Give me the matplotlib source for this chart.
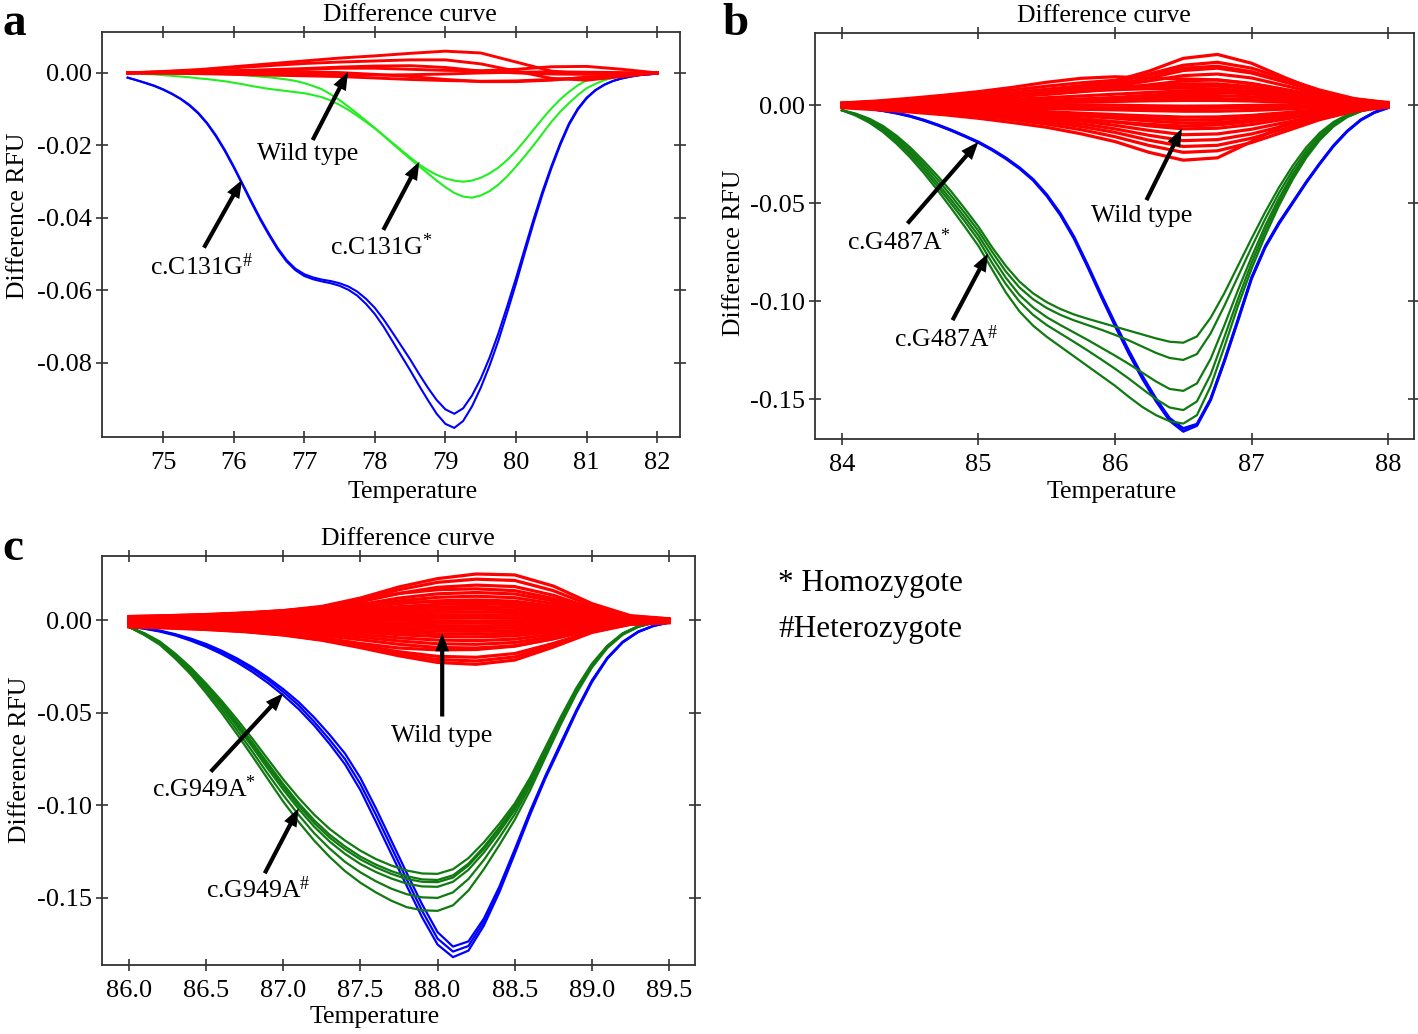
import matplotlib
matplotlib.use('Agg')
import matplotlib.pyplot as plt

plt.rcParams['font.family'] = ['Liberation Serif', 'DejaVu Serif']
plt.rcParams['axes.unicode_minus'] = False
plt.rcParams['mathtext.fontset'] = 'custom'
plt.rcParams['mathtext.rm'] = 'Liberation Serif'
plt.rcParams['mathtext.it'] = 'Liberation Serif:italic'
plt.rcParams['mathtext.bf'] = 'Liberation Serif:bold'

# ---------------- Panel a data ----------------
temp_a = [74.5, 74.625, 74.75, 74.875, 75.0, 75.125, 75.25, 75.375,
          75.5, 75.625, 75.75, 75.875, 76.0, 76.125, 76.25, 76.375,
          76.5, 76.625, 76.75, 76.875, 77.0, 77.125, 77.25, 77.375,
          77.5, 77.625, 77.75, 77.875, 78.0, 78.125, 78.25, 78.375,
          78.5, 78.625, 78.75, 78.875, 79.0, 79.125, 79.25, 79.375,
          79.5, 79.625, 79.75, 79.875, 80.0, 80.125, 80.25, 80.375,
          80.5, 80.625, 80.75, 80.875, 81.0, 81.125, 81.25, 81.375,
          81.5, 81.625, 81.75, 81.875, 82.0]
a_het_1 = [-0.0013, -0.0020, -0.0027, -0.0035, -0.0045, -0.0057, -0.0071, -0.0088,
           -0.0110, -0.0138, -0.0172, -0.0212, -0.0257, -0.0305, -0.0353, -0.0400,
           -0.0443, -0.0483, -0.0516, -0.0540, -0.0555, -0.0564, -0.0570, -0.0574,
           -0.0580, -0.0589, -0.0603, -0.0623, -0.0648, -0.0680, -0.0716, -0.0753,
           -0.0790, -0.0830, -0.0868, -0.0902, -0.0928, -0.0940, -0.0925, -0.0890,
           -0.0843, -0.0785, -0.0718, -0.0643, -0.0565, -0.0483, -0.0402, -0.0326,
           -0.0257, -0.0194, -0.0139, -0.0098, -0.0068, -0.0047, -0.0032, -0.0022,
           -0.0015, -0.0010, -0.0006, -0.0004, -0.0002]
a_het_2 = [-0.0013, -0.0020, -0.0028, -0.0036, -0.0046, -0.0058, -0.0072, -0.0090,
           -0.0112, -0.0140, -0.0175, -0.0215, -0.0260, -0.0308, -0.0357, -0.0404,
           -0.0447, -0.0487, -0.0520, -0.0544, -0.0560, -0.0569, -0.0575, -0.0580,
           -0.0587, -0.0598, -0.0614, -0.0637, -0.0665, -0.0700, -0.0740, -0.0780,
           -0.0820, -0.0862, -0.0902, -0.0940, -0.0968, -0.0979, -0.0960, -0.0920,
           -0.0868, -0.0807, -0.0738, -0.0660, -0.0580, -0.0495, -0.0412, -0.0334,
           -0.0263, -0.0199, -0.0143, -0.0101, -0.0070, -0.0048, -0.0033, -0.0022,
           -0.0015, -0.0010, -0.0006, -0.0004, -0.0002]
a_hom_1 = [0.0000, -0.0001, -0.0003, -0.0004, -0.0006, -0.0008, -0.0010, -0.0012,
           -0.0015, -0.0017, -0.0020, -0.0023, -0.0027, -0.0031, -0.0036, -0.0040,
           -0.0044, -0.0047, -0.0050, -0.0053, -0.0056, -0.0061, -0.0067, -0.0076,
           -0.0088, -0.0102, -0.0118, -0.0135, -0.0153, -0.0173, -0.0193, -0.0213,
           -0.0233, -0.0252, -0.0268, -0.0281, -0.0291, -0.0297, -0.0300, -0.0297,
           -0.0289, -0.0277, -0.0261, -0.0240, -0.0215, -0.0186, -0.0156, -0.0126,
           -0.0098, -0.0073, -0.0052, -0.0034, -0.0020, -0.0012, -0.0007, -0.0004,
           -0.0002, -0.0001, 0.0000, 0.0000, 0.0000]
a_hom_2 = [0.0000, 0.0000, 0.0000, 0.0000, 0.0000, 0.0000, 0.0000, -0.0001,
           -0.0001, -0.0002, -0.0002, -0.0003, -0.0004, -0.0006, -0.0008, -0.0010,
           -0.0012, -0.0015, -0.0018, -0.0022, -0.0028, -0.0036, -0.0045, -0.0059,
           -0.0075, -0.0093, -0.0112, -0.0132, -0.0152, -0.0173, -0.0195, -0.0216,
           -0.0237, -0.0257, -0.0277, -0.0297, -0.0315, -0.0331, -0.0341, -0.0344,
           -0.0338, -0.0326, -0.0308, -0.0285, -0.0258, -0.0229, -0.0199, -0.0167,
           -0.0135, -0.0107, -0.0083, -0.0061, -0.0042, -0.0030, -0.0020, -0.0013,
           -0.0008, -0.0004, -0.0002, -0.0001, 0.0000]
temp_a_wt = [74.5, 75.0, 75.5, 76.0, 76.5, 77.0, 77.5, 78.0, 78.5, 79.0, 79.5, 80.0, 80.5, 81.0, 81.5, 82.0]
a_wild = [
    [0, 0.0004, 0.0009, 0.0017, 0.0025, 0.0033, 0.0041, 0.0047, 0.0054, 0.0060, 0.0055, 0.0030, 0.0005, -0.0003, -0.0002, 0],
    [0, 0.0003, 0.0008, 0.0014, 0.0020, 0.0026, 0.0030, 0.0033, 0.0036, 0.0036, 0.0025, 0.0005, -0.0015, -0.0020, -0.0010, 0],
    [0, 0.0001, 0.0003, 0.0005, 0.0007, 0.0010, 0.0013, 0.0013, 0.0010, 0.0007, 0.0006, 0.0010, 0.0017, 0.0018, 0.0010, 0],
    [0, -0.0001, -0.0002, -0.0004, -0.0006, -0.0008, -0.0010, -0.0014, -0.0018, -0.0021, -0.0023, -0.0022, -0.0018, -0.0013, -0.0006, 0],
    [0, 0.0001, 0.0002, 0.0003, 0.0004, 0.0003, 0.0001, -0.0004, -0.0010, -0.0018, -0.0024, -0.0024, -0.0020, -0.0012, -0.0005, 0],
    [0, 0.0002, 0.0004, 0.0006, 0.0009, 0.0012, 0.0016, 0.0019, 0.0020, 0.0015, 0.0005, 0.0000, -0.0003, -0.0004, -0.0002, 0],
    [0, 0.0000, -0.0001, -0.0002, -0.0003, -0.0004, -0.0005, -0.0006, -0.0005, -0.0003, 0.0000, 0.0002, 0.0003, 0.0002, 0.0001, 0],
]

# ---------------- Panel b data ----------------
temp_b = [84.0, 84.1, 84.2, 84.3, 84.4, 84.5, 84.6, 84.7, 84.8, 84.9,
          85.0, 85.1, 85.2, 85.3, 85.4, 85.5, 85.6, 85.7, 85.8, 85.9,
          86.0, 86.1, 86.2, 86.3, 86.4, 86.5, 86.6, 86.7, 86.8, 86.9,
          87.0, 87.1, 87.2, 87.3, 87.4, 87.5, 87.6, 87.7, 87.8, 87.9, 88.0]
b_hom_1 = [-0.0005, -0.0010, -0.0017, -0.0027, -0.0040, -0.0056, -0.0077, -0.0101, -0.0128, -0.0158,
           -0.0190, -0.0228, -0.0272, -0.0322, -0.0382, -0.0462, -0.0560, -0.0680, -0.0825, -0.0978,
           -0.1125, -0.1265, -0.1395, -0.1510, -0.1610, -0.1665, -0.1635, -0.1505, -0.1310, -0.1100,
           -0.0885, -0.0725, -0.0605, -0.0500, -0.0395, -0.0298, -0.0208, -0.0133, -0.0075, -0.0036, -0.0012]
b_hom_2 = [-0.0005, -0.0010, -0.0017, -0.0027, -0.0039, -0.0055, -0.0075, -0.0099, -0.0126, -0.0156,
           -0.0187, -0.0225, -0.0268, -0.0318, -0.0378, -0.0456, -0.0553, -0.0672, -0.0816, -0.0968,
           -0.1113, -0.1252, -0.1382, -0.1498, -0.1598, -0.1650, -0.1628, -0.1500, -0.1305, -0.1095,
           -0.0880, -0.0720, -0.0600, -0.0496, -0.0392, -0.0296, -0.0206, -0.0132, -0.0074, -0.0036, -0.0012]
b_het = [
    [-0.0025, -0.0042, -0.0068, -0.0105, -0.0155, -0.0215, -0.0285, -0.0360, -0.0440, -0.0528,
     -0.0620, -0.0725, -0.0820, -0.0900, -0.0960, -0.1005, -0.1040, -0.1068, -0.1090, -0.1110,
     -0.1130, -0.1150, -0.1170, -0.1190, -0.1207, -0.1212, -0.1180, -0.1085, -0.0960, -0.0820,
     -0.0680, -0.0545, -0.0420, -0.0310, -0.0215, -0.0140, -0.0085, -0.0048, -0.0024, -0.0010, -0.0003],
    [-0.0025, -0.0045, -0.0073, -0.0112, -0.0165, -0.0228, -0.0300, -0.0378, -0.0462, -0.0550,
     -0.0642, -0.0748, -0.0848, -0.0930, -0.0990, -0.1035, -0.1070, -0.1098, -0.1122, -0.1146,
     -0.1172, -0.1200, -0.1232, -0.1264, -0.1290, -0.1300, -0.1270, -0.1165, -0.1025, -0.0875,
     -0.0725, -0.0580, -0.0448, -0.0332, -0.0232, -0.0152, -0.0093, -0.0052, -0.0026, -0.0011, -0.0003],
    [-0.0025, -0.0047, -0.0078, -0.0120, -0.0175, -0.0240, -0.0315, -0.0397, -0.0483, -0.0572,
     -0.0665, -0.0775, -0.0880, -0.0968, -0.1032, -0.1082, -0.1122, -0.1160, -0.1198, -0.1238,
     -0.1278, -0.1320, -0.1365, -0.1410, -0.1448, -0.1458, -0.1420, -0.1295, -0.1125, -0.0945,
     -0.0775, -0.0615, -0.0475, -0.0352, -0.0248, -0.0163, -0.0100, -0.0056, -0.0029, -0.0012, -0.0004],
    [-0.0025, -0.0049, -0.0083, -0.0128, -0.0185, -0.0252, -0.0330, -0.0414, -0.0502, -0.0593,
     -0.0688, -0.0805, -0.0912, -0.1002, -0.1070, -0.1122, -0.1165, -0.1208, -0.1252, -0.1298,
     -0.1345, -0.1395, -0.1448, -0.1500, -0.1543, -0.1556, -0.1512, -0.1375, -0.1185, -0.0990,
     -0.0805, -0.0640, -0.0494, -0.0366, -0.0258, -0.0170, -0.0104, -0.0058, -0.0030, -0.0013, -0.0005],
    [-0.0025, -0.0052, -0.0088, -0.0136, -0.0196, -0.0266, -0.0346, -0.0433, -0.0525, -0.0620,
     -0.0718, -0.0838, -0.0955, -0.1052, -0.1125, -0.1182, -0.1232, -0.1282, -0.1332, -0.1382,
     -0.1432, -0.1488, -0.1540, -0.1582, -0.1613, -0.1625, -0.1582, -0.1435, -0.1235, -0.1025,
     -0.0835, -0.0665, -0.0513, -0.0380, -0.0268, -0.0177, -0.0108, -0.0060, -0.0031, -0.0014, -0.0006],
]
temp_b_wt = [84.0, 84.25, 84.5, 84.75, 85.0, 85.25, 85.5, 85.75, 86.0, 86.25, 86.5, 86.75, 87.0, 87.25, 87.5, 87.75, 88.0]
b_wild = [
    [0.0012, 0.0018, 0.0026, 0.0036, 0.0050, 0.0065, 0.0082, 0.0100, 0.0125, 0.0175, 0.0240, 0.0260, 0.0215, 0.0140, 0.0070, 0.0032, 0.0015],
    [0.0012, 0.0022, 0.0036, 0.0052, 0.0070, 0.0092, 0.0118, 0.0138, 0.0146, 0.0140, 0.0135, 0.0130, 0.0110, 0.0080, 0.0050, 0.0025, 0.0012],
    [0.0010, 0.0016, 0.0024, 0.0034, 0.0046, 0.0060, 0.0076, 0.0094, 0.0115, 0.0160, 0.0205, 0.0220, 0.0190, 0.0135, 0.0078, 0.0035, 0.0012],
    [0.0008, 0.0014, 0.0022, 0.0032, 0.0044, 0.0058, 0.0072, 0.0088, 0.0105, 0.0140, 0.0178, 0.0190, 0.0165, 0.0118, 0.0068, 0.0030, 0.0010],
    [0.0008, 0.0013, 0.0020, 0.0028, 0.0038, 0.0050, 0.0064, 0.0080, 0.0098, 0.0125, 0.0152, 0.0160, 0.0140, 0.0100, 0.0058, 0.0026, 0.0010],
    [0.0006, 0.0011, 0.0017, 0.0024, 0.0033, 0.0044, 0.0056, 0.0070, 0.0085, 0.0105, 0.0125, 0.0130, 0.0112, 0.0080, 0.0046, 0.0020, 0.0008],
    [0.0006, 0.0012, 0.0020, 0.0030, 0.0042, 0.0056, 0.0072, 0.0086, 0.0095, 0.0100, 0.0102, 0.0098, 0.0085, 0.0062, 0.0038, 0.0018, 0.0007],
    [0.0004, 0.0008, 0.0013, 0.0018, 0.0024, 0.0031, 0.0039, 0.0048, 0.0057, 0.0066, 0.0074, 0.0075, 0.0066, 0.0048, 0.0028, 0.0013, 0.0005],
    [0.0003, 0.0006, 0.0009, 0.0012, 0.0016, 0.0021, 0.0026, 0.0032, 0.0038, 0.0045, 0.0050, 0.0050, 0.0044, 0.0032, 0.0019, 0.0009, 0.0003],
    [0.0002, 0.0003, 0.0005, 0.0007, 0.0009, 0.0011, 0.0014, 0.0017, 0.0020, 0.0023, 0.0025, 0.0025, 0.0022, 0.0016, 0.0009, 0.0004, 0.0002],
    [0.0000, 0.0001, 0.0002, 0.0003, 0.0004, 0.0004, 0.0004, 0.0003, 0.0001, -0.0002, -0.0004, -0.0003, 0.0000, 0.0002, 0.0002, 0.0001, 0.0000],
    [-0.0002, -0.0004, -0.0006, -0.0008, -0.0011, -0.0014, -0.0017, -0.0020, -0.0023, -0.0027, -0.0030, -0.0030, -0.0026, -0.0019, -0.0011, -0.0005, -0.0001],
    [-0.0003, -0.0006, -0.0010, -0.0014, -0.0019, -0.0025, -0.0032, -0.0040, -0.0047, -0.0054, -0.0060, -0.0059, -0.0051, -0.0037, -0.0021, -0.0009, -0.0002],
    [-0.0004, -0.0008, -0.0013, -0.0019, -0.0026, -0.0034, -0.0043, -0.0054, -0.0066, -0.0080, -0.0090, -0.0088, -0.0075, -0.0054, -0.0031, -0.0013, -0.0003],
    [-0.0005, -0.0010, -0.0016, -0.0023, -0.0032, -0.0042, -0.0054, -0.0068, -0.0085, -0.0105, -0.0120, -0.0117, -0.0098, -0.0070, -0.0040, -0.0017, -0.0004],
    [-0.0006, -0.0012, -0.0019, -0.0027, -0.0037, -0.0049, -0.0063, -0.0080, -0.0102, -0.0128, -0.0150, -0.0146, -0.0122, -0.0087, -0.0050, -0.0021, -0.0005],
    [-0.0007, -0.0014, -0.0022, -0.0031, -0.0042, -0.0056, -0.0073, -0.0094, -0.0120, -0.0153, -0.0180, -0.0175, -0.0146, -0.0103, -0.0059, -0.0025, -0.0006],
    [-0.0008, -0.0016, -0.0025, -0.0035, -0.0048, -0.0064, -0.0084, -0.0108, -0.0138, -0.0178, -0.0210, -0.0204, -0.0168, -0.0118, -0.0066, -0.0028, -0.0007],
    [-0.0009, -0.0018, -0.0028, -0.0040, -0.0055, -0.0073, -0.0096, -0.0124, -0.0160, -0.0205, -0.0240, -0.0232, -0.0190, -0.0132, -0.0073, -0.0030, -0.0008],
    [-0.0012, -0.0022, -0.0034, -0.0048, -0.0066, -0.0088, -0.0112, -0.0145, -0.0185, -0.0240, -0.0280, -0.0268, -0.0185, -0.0095, -0.0045, -0.0020, -0.0009],
    [0.0005, 0.0010, 0.0017, 0.0026, 0.0036, 0.0048, 0.0060, 0.0072, 0.0080, 0.0085, 0.0088, 0.0084, 0.0072, 0.0052, 0.0031, 0.0014, 0.0005],
    [0.0006, 0.0011, 0.0018, 0.0026, 0.0036, 0.0047, 0.0059, 0.0072, 0.0086, 0.0100, 0.0110, 0.0110, 0.0095, 0.0068, 0.0040, 0.0018, 0.0007],
    [0.0002, 0.0004, 0.0007, 0.0010, 0.0013, 0.0017, 0.0021, 0.0025, 0.0029, 0.0033, 0.0036, 0.0035, 0.0030, 0.0022, 0.0013, 0.0006, 0.0002],
    [-0.0001, -0.0002, -0.0003, -0.0004, -0.0005, -0.0007, -0.0009, -0.0011, -0.0013, -0.0015, -0.0016, -0.0015, -0.0012, -0.0008, -0.0004, -0.0002, 0.0000],
    [-0.0003, -0.0007, -0.0011, -0.0016, -0.0022, -0.0029, -0.0037, -0.0046, -0.0056, -0.0067, -0.0075, -0.0073, -0.0062, -0.0045, -0.0026, -0.0011, -0.0003],
    [-0.0005, -0.0010, -0.0017, -0.0025, -0.0035, -0.0046, -0.0058, -0.0071, -0.0084, -0.0097, -0.0105, -0.0100, -0.0083, -0.0058, -0.0033, -0.0014, -0.0004],
    [0.0002, 0.0004, 0.0006, 0.0009, 0.0013, 0.0018, 0.0024, 0.0031, 0.0040, 0.0052, 0.0062, 0.0066, 0.0058, 0.0042, 0.0024, 0.0010, 0.0003],
    [0.0010, 0.0019, 0.0030, 0.0044, 0.0060, 0.0078, 0.0098, 0.0115, 0.0128, 0.0155, 0.0190, 0.0200, 0.0172, 0.0122, 0.0070, 0.0031, 0.0011],
]

# ---------------- Panel c data ----------------
temp_c = [86.0, 86.1, 86.2, 86.3, 86.4, 86.5, 86.6, 86.7, 86.8, 86.9,
          87.0, 87.1, 87.2, 87.3, 87.4, 87.5, 87.6, 87.7, 87.8, 87.9,
          88.0, 88.1, 88.2, 88.3, 88.4, 88.5, 88.6, 88.7, 88.8, 88.9,
          89.0, 89.1, 89.2, 89.3, 89.4, 89.5]
c_hom = [
    [-0.0034, -0.0043, -0.0056, -0.0075, -0.0099, -0.0128, -0.0164, -0.0206, -0.0254, -0.0310,
     -0.0372, -0.0442, -0.0525, -0.0618, -0.0720, -0.0852, -0.1015, -0.1190, -0.1365, -0.1535,
     -0.1685, -0.1763, -0.1735, -0.1612, -0.1440, -0.1238, -0.1030, -0.0838, -0.0660, -0.0485,
     -0.0325, -0.0202, -0.0116, -0.0061, -0.0029, -0.0012],
    [-0.0034, -0.0044, -0.0058, -0.0078, -0.0104, -0.0135, -0.0172, -0.0215, -0.0265, -0.0322,
     -0.0387, -0.0460, -0.0548, -0.0645, -0.0750, -0.0885, -0.1050, -0.1225, -0.1400, -0.1570,
     -0.1720, -0.1790, -0.1760, -0.1630, -0.1455, -0.1250, -0.1040, -0.0845, -0.0668, -0.0490,
     -0.0330, -0.0205, -0.0118, -0.0062, -0.0030, -0.0012],
    [-0.0034, -0.0046, -0.0061, -0.0082, -0.0110, -0.0143, -0.0182, -0.0227, -0.0279, -0.0338,
     -0.0405, -0.0480, -0.0568, -0.0668, -0.0778, -0.0918, -0.1088, -0.1262, -0.1435, -0.1605,
     -0.1752, -0.1820, -0.1785, -0.1650, -0.1470, -0.1262, -0.1050, -0.0852, -0.0676, -0.0496,
     -0.0335, -0.0208, -0.0120, -0.0064, -0.0031, -0.0012],
]
c_het = [
    [-0.0036, -0.0070, -0.0115, -0.0180, -0.0255, -0.0342, -0.0435, -0.0535, -0.0640, -0.0750,
     -0.0860, -0.0960, -0.1050, -0.1127, -0.1190, -0.1245, -0.1290, -0.1325, -0.1352, -0.1368,
     -0.1370, -0.1345, -0.1285, -0.1200, -0.1100, -0.0990, -0.0850, -0.0685, -0.0520, -0.0365,
     -0.0235, -0.0138, -0.0070, -0.0032, -0.0012, -0.0004],
    [-0.0036, -0.0072, -0.0118, -0.0185, -0.0262, -0.0352, -0.0448, -0.0552, -0.0660, -0.0773,
     -0.0885, -0.0988, -0.1080, -0.1158, -0.1222, -0.1277, -0.1320, -0.1355, -0.1383, -0.1400,
     -0.1403, -0.1378, -0.1315, -0.1225, -0.1120, -0.1005, -0.0862, -0.0695, -0.0528, -0.0371,
     -0.0240, -0.0140, -0.0072, -0.0033, -0.0012, -0.0004],
    [-0.0036, -0.0073, -0.0120, -0.0188, -0.0266, -0.0358, -0.0455, -0.0560, -0.0670, -0.0785,
     -0.0898, -0.1002, -0.1095, -0.1174, -0.1238, -0.1292, -0.1335, -0.1370, -0.1398, -0.1413,
     -0.1415, -0.1390, -0.1325, -0.1235, -0.1128, -0.1012, -0.0868, -0.0700, -0.0532, -0.0374,
     -0.0242, -0.0141, -0.0073, -0.0033, -0.0012, -0.0004],
    [-0.0036, -0.0075, -0.0123, -0.0193, -0.0272, -0.0366, -0.0465, -0.0573, -0.0685, -0.0802,
     -0.0915, -0.1020, -0.1115, -0.1195, -0.1262, -0.1317, -0.1360, -0.1395, -0.1423, -0.1438,
     -0.1440, -0.1413, -0.1348, -0.1255, -0.1145, -0.1025, -0.0878, -0.0708, -0.0538, -0.0378,
     -0.0245, -0.0143, -0.0074, -0.0034, -0.0013, -0.0004],
    [-0.0036, -0.0077, -0.0127, -0.0200, -0.0282, -0.0380, -0.0482, -0.0593, -0.0710, -0.0830,
     -0.0945, -0.1052, -0.1150, -0.1233, -0.1305, -0.1362, -0.1410, -0.1450, -0.1480, -0.1497,
     -0.1500, -0.1470, -0.1398, -0.1295, -0.1175, -0.1048, -0.0895, -0.0720, -0.0548, -0.0386,
     -0.0250, -0.0146, -0.0076, -0.0035, -0.0013, -0.0004],
    [-0.0036, -0.0080, -0.0132, -0.0207, -0.0292, -0.0393, -0.0500, -0.0615, -0.0735, -0.0858,
     -0.0980, -0.1090, -0.1190, -0.1278, -0.1355, -0.1418, -0.1470, -0.1515, -0.1550, -0.1567,
     -0.1570, -0.1540, -0.1460, -0.1345, -0.1215, -0.1078, -0.0918, -0.0738, -0.0560, -0.0395,
     -0.0256, -0.0150, -0.0078, -0.0036, -0.0013, -0.0004],
]
temp_c_wt = [86.0, 86.25, 86.5, 86.75, 87.0, 87.25, 87.5, 87.75, 88.0, 88.25, 88.5, 88.75, 89.0, 89.25, 89.5]
c_wild = [
    [0.0020, 0.0025, 0.0031, 0.0040, 0.0052, 0.0075, 0.0120, 0.0180, 0.0225, 0.0250, 0.0245, 0.0185, 0.0090, 0.0025, 0.0008],
    [0.0018, 0.0022, 0.0028, 0.0036, 0.0048, 0.0070, 0.0110, 0.0165, 0.0205, 0.0222, 0.0215, 0.0160, 0.0078, 0.0022, 0.0007],
    [0.0016, 0.0020, 0.0026, 0.0034, 0.0045, 0.0065, 0.0100, 0.0145, 0.0178, 0.0190, 0.0182, 0.0135, 0.0066, 0.0019, 0.0006],
    [0.0020, 0.0024, 0.0030, 0.0038, 0.0050, 0.0070, 0.0105, 0.0145, 0.0165, 0.0170, 0.0160, 0.0118, 0.0058, 0.0017, 0.0006],
    [0.0014, 0.0018, 0.0023, 0.0030, 0.0040, 0.0056, 0.0085, 0.0120, 0.0143, 0.0150, 0.0142, 0.0105, 0.0052, 0.0015, 0.0005],
    [0.0012, 0.0016, 0.0020, 0.0026, 0.0035, 0.0050, 0.0075, 0.0105, 0.0124, 0.0130, 0.0122, 0.0090, 0.0045, 0.0013, 0.0004],
    [0.0015, 0.0018, 0.0022, 0.0027, 0.0034, 0.0046, 0.0066, 0.0090, 0.0105, 0.0110, 0.0103, 0.0076, 0.0038, 0.0011, 0.0004],
    [0.0010, 0.0013, 0.0017, 0.0022, 0.0029, 0.0040, 0.0055, 0.0074, 0.0086, 0.0090, 0.0084, 0.0062, 0.0031, 0.0009, 0.0003],
    [0.0012, 0.0014, 0.0017, 0.0021, 0.0026, 0.0034, 0.0046, 0.0062, 0.0072, 0.0075, 0.0070, 0.0052, 0.0026, 0.0008, 0.0003],
    [0.0008, 0.0010, 0.0013, 0.0017, 0.0022, 0.0029, 0.0038, 0.0050, 0.0058, 0.0060, 0.0056, 0.0041, 0.0021, 0.0006, 0.0002],
    [0.0010, 0.0012, 0.0014, 0.0017, 0.0020, 0.0025, 0.0031, 0.0038, 0.0043, 0.0045, 0.0042, 0.0031, 0.0016, 0.0005, 0.0002],
    [0.0006, 0.0007, 0.0009, 0.0011, 0.0014, 0.0017, 0.0021, 0.0026, 0.0029, 0.0030, 0.0028, 0.0021, 0.0011, 0.0004, 0.0001],
    [0.0004, 0.0005, 0.0006, 0.0007, 0.0008, 0.0010, 0.0012, 0.0014, 0.0015, 0.0015, 0.0014, 0.0010, 0.0006, 0.0002, 0.0001],
    [0.0000, 0.0001, 0.0001, 0.0002, 0.0002, 0.0002, 0.0001, 0.0000, -0.0002, -0.0003, -0.0002, -0.0001, 0.0000, 0.0000, 0.0000],
    [-0.0004, -0.0005, -0.0006, -0.0007, -0.0008, -0.0010, -0.0012, -0.0014, -0.0015, -0.0015, -0.0014, -0.0010, -0.0006, -0.0002, -0.0001],
    [-0.0008, -0.0009, -0.0011, -0.0013, -0.0015, -0.0018, -0.0022, -0.0026, -0.0029, -0.0030, -0.0028, -0.0021, -0.0011, -0.0004, -0.0002],
    [-0.0012, -0.0014, -0.0016, -0.0019, -0.0022, -0.0027, -0.0033, -0.0039, -0.0044, -0.0045, -0.0042, -0.0031, -0.0016, -0.0006, -0.0002],
    [-0.0015, -0.0017, -0.0020, -0.0024, -0.0029, -0.0035, -0.0043, -0.0052, -0.0058, -0.0060, -0.0056, -0.0041, -0.0021, -0.0008, -0.0003],
    [-0.0018, -0.0021, -0.0025, -0.0030, -0.0036, -0.0044, -0.0054, -0.0065, -0.0073, -0.0075, -0.0070, -0.0052, -0.0026, -0.0010, -0.0004],
    [-0.0020, -0.0024, -0.0029, -0.0035, -0.0042, -0.0052, -0.0064, -0.0078, -0.0088, -0.0090, -0.0084, -0.0062, -0.0031, -0.0012, -0.0005],
    [-0.0022, -0.0027, -0.0033, -0.0040, -0.0049, -0.0061, -0.0077, -0.0095, -0.0107, -0.0110, -0.0102, -0.0075, -0.0038, -0.0014, -0.0006],
    [-0.0025, -0.0030, -0.0037, -0.0045, -0.0056, -0.0071, -0.0090, -0.0112, -0.0127, -0.0130, -0.0120, -0.0088, -0.0044, -0.0016, -0.0007],
    [-0.0028, -0.0033, -0.0040, -0.0050, -0.0063, -0.0082, -0.0105, -0.0130, -0.0147, -0.0150, -0.0138, -0.0100, -0.0050, -0.0018, -0.0008],
    [-0.0030, -0.0036, -0.0044, -0.0056, -0.0072, -0.0095, -0.0125, -0.0150, -0.0160, -0.0158, -0.0140, -0.0100, -0.0050, -0.0018, -0.0008],
    [-0.0032, -0.0038, -0.0046, -0.0058, -0.0075, -0.0100, -0.0135, -0.0170, -0.0195, -0.0200, -0.0180, -0.0125, -0.0060, -0.0020, -0.0010],
    [-0.0034, -0.0040, -0.0048, -0.0060, -0.0078, -0.0105, -0.0142, -0.0182, -0.0212, -0.0220, -0.0198, -0.0135, -0.0063, -0.0021, -0.0012],
    [-0.0036, -0.0042, -0.0050, -0.0062, -0.0080, -0.0108, -0.0148, -0.0192, -0.0228, -0.0238, -0.0215, -0.0145, -0.0066, -0.0022, -0.0014],
    [0.0016, 0.0021, 0.0028, 0.0038, 0.0052, 0.0070, 0.0088, 0.0098, 0.0100, 0.0098, 0.0090, 0.0068, 0.0035, 0.0011, 0.0004],
]

# ---------------- Ticks / labels ----------------
xticks_a = [75, 76, 77, 78, 79, 80, 81, 82]
yticks_a = [0.00, -0.02, -0.04, -0.06, -0.08]
xticks_b = [84, 85, 86, 87, 88]
yticks_b = [0.00, -0.05, -0.10, -0.15]
xticks_c = [86.0, 86.5, 87.0, 87.5, 88.0, 88.5, 89.0, 89.5]
yticks_c = [0.00, -0.05, -0.10, -0.15]

RED = '#FF0000'
BLUE = '#0000FF'
LIME = '#22EE22'
DGREEN = '#107A10'
FRAME = '#333333'
FS = 18.5

fig = plt.figure(figsize=(14.18, 10.34), dpi=100)
ax_a = fig.add_axes([0.0719, 0.5774, 0.4076, 0.3917])
ax_b = fig.add_axes([0.5745, 0.5754, 0.4227, 0.3924])
ax_c = fig.add_axes([0.0718, 0.0670, 0.4185, 0.3956])


def style(ax, xlim, ylim, xt, yt, xfmt, yfmt):
    ax.set_xlim(*xlim)
    ax.set_ylim(*ylim)
    ax.set_xticks(xt)
    ax.set_yticks(yt)
    ax.set_xticklabels([xfmt % v for v in xt])
    ax.set_yticklabels([yfmt % v for v in yt])
    ax.tick_params(direction='inout', length=9, width=1.2, color=FRAME,
                   top=True, right=True, labelsize=19)
    ax.tick_params(axis='x', pad=6.5)
    ax.tick_params(axis='y', pad=2.5)
    for s in ax.spines.values():
        s.set_color(FRAME)
        s.set_linewidth(1.3)


def arrow(ax, tail, tip):
    ax.annotate('', xy=tip, xytext=tail, xycoords='data', textcoords='data',
                arrowprops=dict(arrowstyle='simple,head_length=0.65,head_width=0.5,tail_width=0.15',
                                fc='black', ec='none', shrinkA=0, shrinkB=0, mutation_scale=20),
                zorder=10)


def decorate(ax, title_x, xlabel_x, xlabel_y, ylabel_x, ylabel_y):
    ax.text(title_x, 1.027, 'Difference curve', transform=ax.transAxes, ha='center',
            va='baseline', fontsize=FS)
    ax.text(xlabel_x, xlabel_y, 'Temperature', transform=ax.transAxes, ha='center',
            va='baseline', fontsize=FS)
    ax.text(ylabel_x, ylabel_y, 'Difference RFU', transform=ax.transAxes, ha='center',
            va='center', rotation=90, fontsize=FS)


# ---- Panel a ----
ax = ax_a
for y in (a_hom_1, a_hom_2):
    ax.plot(temp_a, y, color=LIME, lw=1.5, zorder=2)
for y in (a_het_1, a_het_2):
    ax.plot(temp_a, y, color=BLUE, lw=1.5, zorder=2)
for y in a_wild:
    ax.plot(temp_a_wt, y, color=RED, lw=2.1, zorder=3)
style(ax, (74.136, 82.32), (-0.1004, 0.0113), xticks_a, yticks_a, '%d', '%.2f')
decorate(ax, 0.533, 0.538, -0.150, -0.146, 0.546)
arrow(ax, (77.12, -0.0185), (77.62, 0.0003))
arrow(ax, (78.12, -0.0433), (78.63, -0.0245))
arrow(ax, (75.58, -0.0482), (76.12, -0.0295))
ax.text(77.054, -0.0240, 'Wild type', ha='center', va='baseline', fontsize=FS)
ax.text(77.365, -0.0502, r'c.C131G$^{*}$', ha='left', va='baseline', fontsize=FS)
ax.text(74.82, -0.0557, r'c.C131G$^{\#}$', ha='left', va='baseline', fontsize=FS)

# ---- Panel b ----
ax = ax_b
for y in (b_hom_1, b_hom_2):
    ax.plot(temp_b, y, color=BLUE, lw=2.0, zorder=1)
for y in b_het:
    ax.plot(temp_b, y, color=DGREEN, lw=1.6, zorder=2)
for y in b_wild:
    ax.plot(temp_b_wt, y, color=RED, lw=2.3, zorder=3)
style(ax, (83.80, 88.19), (-0.1704, 0.0368), xticks_b, yticks_b, '%d', '%.2f')
decorate(ax, 0.482, 0.496, -0.145, -0.135, 0.458)
arrow(ax, (86.23, -0.0484), (86.49, -0.0118))
arrow(ax, (84.48, -0.0603), (85.0, -0.0186))
arrow(ax, (84.81, -0.1097), (85.07, -0.0756))
ax.text(85.821, -0.0594, 'Wild type', ha='left', va='baseline', fontsize=FS)
ax.text(84.039, -0.0739, r'c.G487A$^{*}$', ha='left', va='baseline', fontsize=FS)
ax.text(84.383, -0.1233, r'c.G487A$^{\#}$', ha='left', va='baseline', fontsize=FS)

# ---- Panel c ----
ax = ax_c
for y in c_hom:
    ax.plot(temp_c, y, color=BLUE, lw=1.6, zorder=1)
for y in c_het:
    ax.plot(temp_c, y, color=DGREEN, lw=1.6, zorder=2)
for y in c_wild:
    ax.plot(temp_c_wt, y, color=RED, lw=2.3, zorder=3)
style(ax, (85.824, 89.67), (-0.1861, 0.0349), xticks_c, yticks_c, '%.1f', '%.2f')
decorate(ax, 0.516, 0.460, -0.1426, -0.138, 0.502)
arrow(ax, (88.03, -0.0520), (88.03, -0.0070))
arrow(ax, (86.53, -0.0818), (87.0, -0.0394))
arrow(ax, (86.88, -0.1367), (87.1, -0.1016))
ax.text(87.701, -0.0656, 'Wild type', ha='left', va='baseline', fontsize=FS)
ax.text(86.150, -0.0953, r'c.G949A$^{*}$', ha='left', va='baseline', fontsize=FS)
ax.text(86.498, -0.1502, r'c.G949A$^{\#}$', ha='left', va='baseline', fontsize=FS)

# ---- Panel letters & legend ----
fig.text(2 / 1418, 1 - 35 / 1034, 'a', fontsize=34, fontweight='bold', va='baseline', ha='left')
fig.text(722 / 1418, 1 - 35 / 1034, 'b', fontsize=34, fontweight='bold', va='baseline', ha='left')
fig.text(2 / 1418, 1 - 560 / 1034, 'c', fontsize=34, fontweight='bold', va='baseline', ha='left')
fig.text(778 / 1418, 1 - 591 / 1034, '* Homozygote', fontsize=22.5, va='baseline', ha='left')
fig.text(778 / 1418, 1 - 637 / 1034, '#Heterozygote', fontsize=22.5, va='baseline', ha='left')

fig.savefig('out.png', dpi=100)
